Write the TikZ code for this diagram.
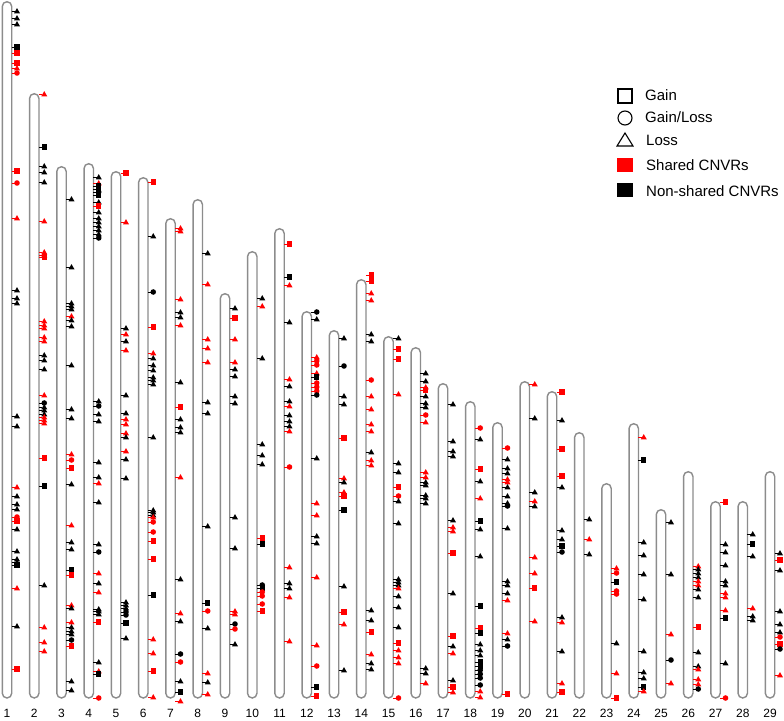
\documentclass[tikz,border=0pt]{standalone}
\usepackage{fontspec}
\setmainfont{Liberation Sans}
\definecolor{chromgray}{RGB}{140,140,140}
\colorlet{mr}{red}
\colorlet{mk}{black}
\tikzset{
  chromo/.style={draw=chromgray,line width=1.4pt,rounded corners=4.7pt},
  tickln/.style={line width=0.4pt},
  lab/.style={font=\fontsize{12}{14}\selectfont,anchor=base,inner sep=0pt},
  legtxt/.style={font=\fontsize{15}{17}\selectfont,anchor=base west,inner sep=0pt},
  legsym/.style={draw=black,line width=1.1pt}
}
\newcommand\mkt[3]{\fill[fill=#3] (#1-3.0,#2+2.3) -- (#1+3.0,#2+2.3) -- (#1,#2-2.9) -- cycle;}
\newcommand\mks[3]{\fill[fill=#3] (#1-2.6,#2-2.6) rectangle (#1+2.6,#2+2.6);}
\newcommand\mkc[3]{\fill[fill=#3] (#1,#2) circle (2.8);}
\newcommand\chromo[3]{%
  \pgfmathsetmacro\cx{7+(#1-1)*27.25}%
  \pgfmathsetmacro\mx{\cx+10}%
  \draw[chromo] (\cx-4.7,698) rectangle (\cx+4.7,#2+0.7);
  \node[lab] (lab#1) at (\cx,717.5) {#1};
  \foreach \yy/\shp/\qq in {#3}{%
    \draw[tickln,draw=m\qq] (\cx+4.7,\yy) -- (\mx-2,\yy);
    \csname mk\shp\endcsname{\mx}{\yy}{m\qq}
  }%
}
\begin{document}
\begin{tikzpicture}[x=1pt,y=-1pt]
\useasboundingbox[fill=white] (0,0) rectangle (784,720);
\chromo{1}{1}{11/t/k, 18/t/k, 24/t/k, 47/s/k, 53/s/r, 63/s/r, 68/t/r, 73/c/r, 171/s/r, 183/c/r, 218/t/r, 290/t/k, 298/t/k, 303/t/k, 416/t/k, 426/t/k, 487/t/r, 496/t/k, 504/t/k, 509/t/k, 517/c/r, 521/s/r, 529/t/k, 551/t/k, 559/t/k, 562/t/k, 565/s/k, 588/t/r, 626/t/k, 669/s/r}
\chromo{2}{93}{94/t/r, 147/s/k, 166/t/k, 172/t/k, 182/t/k, 221/t/r, 252/t/r, 255/t/r, 257/s/r, 321/t/r, 325/t/r, 328/t/r, 337/t/r, 341/t/r, 355/t/k, 360/t/k, 369/t/k, 395/t/r, 403/c/k, 407/t/k, 410/t/k, 414/t/k, 417/t/r, 420/t/r, 423/t/r, 458/s/r, 486/s/k, 585/t/k, 627/t/r, 642/t/r, 651/t/r}
\chromo{3}{166}{199/t/k, 267/t/k, 303/t/k, 306/t/k, 309/t/k, 316/t/r, 320/t/k, 326/t/k, 365/t/k, 409/t/k, 418/t/k, 454/t/r, 460/c/r, 468/s/r, 484/t/k, 525/t/r, 542/t/k, 549/t/k, 570/s/k, 575/s/r, 605/t/r, 608/t/k, 622/t/r, 627/t/k, 631/t/k, 634/t/k, 640/c/k, 646/s/r, 681/t/k, 690/t/k}
\chromo{4}{163}{177/t/k, 183/t/r, 186/s/k, 189/s/k, 192/c/k, 195/s/k, 202/t/k, 206/s/r, 212/t/k, 218/t/k, 222/t/k, 226/t/k, 230/t/k, 234/t/k, 238/c/k, 401/t/k, 406/c/k, 414/t/k, 421/t/k, 462/t/k, 477/t/k, 483/t/r, 502/t/k, 544/t/k, 552/c/k, 573/t/r, 583/t/k, 592/t/r, 609/t/k, 611/t/k, 614/t/k, 622/s/r, 662/t/k, 671/t/r, 674/s/k, 698/c/r}
\chromo{5}{171}{173/s/r, 222/t/r, 328/t/k, 334/t/r, 341/t/k, 350/t/r, 395/t/k, 413/t/k, 419/t/r, 424/t/r, 433/t/r, 437/t/k, 451/t/r, 459/t/k, 478/t/k, 602/t/k, 605/t/k, 608/t/k, 612/c/k, 615/c/k, 623/s/k, 638/t/k}
\chromo{6}{177}{182/s/r, 236/t/k, 292/c/k, 327/s/r, 353/t/r, 358/t/k, 365/t/k, 370/t/k, 377/t/k, 380/t/k, 384/t/k, 437/t/k, 510/t/k, 512/t/k, 515/t/k, 517/t/r, 522/c/r, 532/c/r, 541/s/r, 559/s/r, 595/s/k, 639/t/r, 653/t/r, 671/s/r, 697/t/r}
\chromo{7}{218}{228/t/r, 231/t/r, 299/t/r, 312/t/k, 317/t/k, 325/t/r, 382/t/k, 407/s/r, 419/t/k, 427/t/k, 432/t/k, 477/t/r, 579/t/k, 613/t/r, 621/t/k, 654/c/k, 662/c/r, 681/t/k, 692/s/k, 701/t/r}
\chromo{8}{199}{253/t/k, 284/t/r, 339/t/r, 348/t/r, 362/t/r, 402/t/k, 413/t/k, 526/t/k, 603/s/k, 611/c/r, 628/t/k, 673/t/r, 682/t/k, 694/t/r}
\chromo{9}{293}{308/t/k, 318/s/r, 339/t/r, 362/t/r, 369/t/k, 376/t/k, 396/t/k, 403/t/k, 517/t/k, 548/t/k, 611/t/r, 614/t/r, 624/c/k, 629/c/r, 644/t/k}
\chromo{10}{251}{298/t/k, 306/t/r, 358/t/k, 444/t/k, 455/t/k, 464/t/k, 538/s/r, 544/s/k, 585/c/k, 588/s/k, 592/c/r, 596/c/r, 604/c/r, 611/s/r}
\chromo{11}{228}{244/s/r, 277/s/k, 285/t/r, 322/t/k, 379/t/r, 386/t/k, 401/t/k, 406/t/r, 415/t/k, 421/t/k, 426/t/k, 431/t/r, 467/c/r, 567/t/r, 583/t/k, 588/t/k, 597/t/r, 641/t/r}
\chromo{12}{311}{312/c/k, 319/t/k, 357/t/r, 361/c/r, 365/c/r, 373/t/r, 377/s/k, 383/c/r, 387/c/r, 391/c/r, 395/c/k, 458/t/k, 503/t/r, 515/t/r, 536/t/k, 543/t/k, 577/t/r, 645/t/r, 666/c/r, 687/s/k, 696/s/r}
\chromo{13}{330}{338/t/k, 366/c/k, 396/t/k, 404/t/k, 438/s/r, 478/t/r, 482/t/k, 492/t/r, 496/s/r, 510/s/k, 586/t/k, 612/s/r, 624/t/r, 670/t/k}
\chromo{14}{279}{275/s/r, 281/s/r, 293/t/r, 300/t/r, 334/t/k, 341/t/k, 380/c/r, 396/t/r, 409/t/r, 424/t/r, 431/t/r, 452/t/k, 460/t/r, 465/t/r, 610/t/k, 620/t/k, 632/s/r, 654/t/r, 663/t/k, 669/t/k}
\chromo{15}{336}{338/t/k, 349/s/r, 359/s/r, 394/t/r, 463/t/k, 472/t/k, 487/s/r, 496/c/r, 501/t/k, 523/t/k, 579/t/k, 582/t/k, 585/t/k, 588/t/r, 596/t/k, 607/t/k, 627/t/k, 643/s/r, 650/t/r, 657/t/r, 663/t/r, 698/c/r}
\chromo{16}{347}{373/t/k, 381/t/k, 387/t/r, 390/s/r, 396/t/k, 403/t/k, 407/t/k, 415/c/r, 422/t/r, 472/t/r, 477/t/r, 482/t/k, 485/t/k, 495/t/k, 498/t/k, 503/t/k, 668/t/k, 673/t/k, 683/t/r}
\chromo{17}{383}{404/t/k, 441/t/k, 451/t/k, 456/t/k, 520/t/k, 527/t/r, 531/t/r, 553/s/r, 593/t/k, 636/s/r, 646/t/k, 653/t/r, 680/t/k, 687/s/r, 692/t/r}
\chromo{18}{401}{428/c/r, 439/t/k, 469/s/r, 481/t/k, 498/t/r, 521/s/k, 529/t/k, 556/t/k, 606/s/k, 628/s/r, 633/s/k, 644/t/k, 650/t/k, 655/t/k, 662/s/k, 666/s/k, 670/c/k, 674/c/k, 678/c/k, 685/c/k, 691/t/r, 697/t/r}
\chromo{19}{422}{448/c/r, 459/t/k, 468/t/k, 473/t/k, 479/t/r, 482/t/r, 487/t/k, 496/t/k, 503/t/k, 506/c/k, 528/t/k, 581/t/k, 585/t/k, 593/t/k, 600/t/r, 633/t/r, 639/t/k, 646/c/k, 694/s/r}
\chromo{20}{381}{384/t/r, 418/t/k, 492/t/k, 501/t/r, 506/t/k, 557/t/r, 573/t/r, 588/s/r, 621/t/r}
\chromo{21}{391}{392/s/r, 420/t/k, 449/s/r, 476/s/r, 487/t/k, 530/t/k, 539/t/k, 546/s/k, 552/c/k, 617/t/k, 622/t/r, 651/t/k, 683/t/r, 692/s/r}
\chromo{22}{432}{519/t/k, 539/t/r, 554/t/k}
\chromo{23}{483}{568/t/r, 573/c/r, 582/s/k, 591/c/r, 594/c/r, 643/t/k, 673/t/r, 698/s/r}
\chromo{24}{423}{437/t/r, 460/s/k, 542/t/k, 555/t/k, 574/t/k, 599/t/k, 651/t/k, 672/t/k, 678/t/k, 687/s/k, 691/t/r}
\chromo{25}{509}{522/t/k, 574/t/k, 634/t/r, 660/c/k, 683/t/r}
\chromo{26}{471}{566/t/r, 569/t/k, 573/t/k, 577/t/k, 581/t/r, 585/t/r, 589/t/k, 597/t/k, 627/s/r, 652/t/k, 666/t/k, 669/t/r, 679/t/r, 684/t/r, 689/c/k}
\chromo{27}{501}{502/s/r, 544/t/k, 552/t/k, 565/t/k, 581/t/k, 585/t/k, 593/t/r, 597/t/r, 610/t/r, 618/s/k, 663/t/k, 698/c/r}
\chromo{28}{501}{534/t/k, 544/s/k, 556/t/k, 608/t/r, 616/t/k, 620/t/k}
\chromo{29}{471}{553/t/k, 560/s/r, 570/t/k, 611/t/k, 624/t/k, 632/t/k, 637/c/r, 644/s/r, 649/c/k, 675/t/r}
% legend
\draw[legsym] (618,89) rectangle (632,103);
\draw[legsym] (625,118) circle (7);
\draw[legsym] (617,146) -- (633,146) -- (625,133) -- cycle;
\fill[red] (617,158) rectangle (633,172);
\fill[black] (617,183) rectangle (633,197);
\node[legtxt] (lgain) at (645,100) {Gain};
\node[legtxt] (lgl) at (645,122.5) {Gain/Loss};
\node[legtxt] (lloss) at (646,145.5) {Loss};
\node[legtxt] (lsh) at (646,170.5) {Shared CNVRs};
\node[legtxt] (lnsh) at (646,196) {Non-shared CNVRs};
\end{tikzpicture}
\end{document}
